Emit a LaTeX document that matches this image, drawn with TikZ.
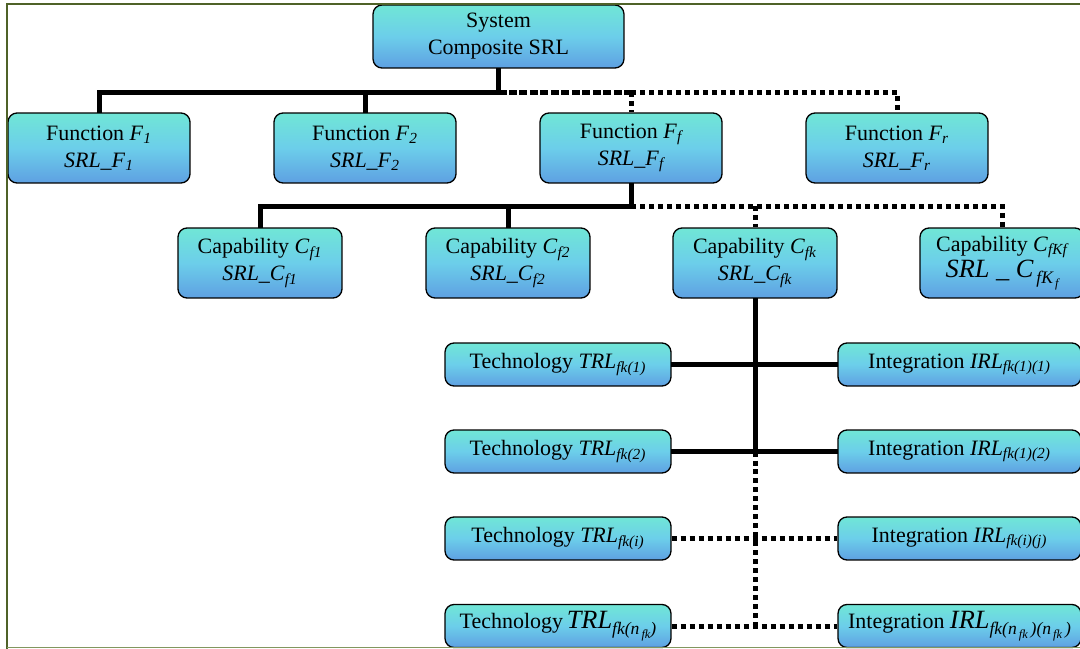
\documentclass[tikz,border=0pt]{standalone}
\usepackage{fontspec}
\setmainfont{Liberation Serif}
\pgfdeclarelayer{bg}
\pgfdeclarelayer{fg}
\pgfsetlayers{bg,main,fg}
\definecolor{boxtop}{RGB}{112,230,214}
\definecolor{boxmid}{RGB}{108,206,234}
\definecolor{boxbot}{RGB}{94,160,226}
\definecolor{framedark}{RGB}{79,98,40}
\definecolor{framelight}{RGB}{130,150,95}
\newcommand{\sbs}[1]{\textsubscript{\itshape #1}}
\newcommand{\bigit}[1]{{\fontsize{15}{15}\selectfont\itshape #1}}
\newcommand{\lowsub}[2][-0.6ex]{\raisebox{#1}{\fontsize{10}{10}\selectfont\itshape #2}}
\newcommand{\tinysub}[1]{\raisebox{-0.45ex}{\fontsize{7}{7}\selectfont\itshape #1}}
\begin{document}
\begin{tikzpicture}[x=0.02cm,y=-0.02cm,
  box/.style={draw=black, line width=0.75pt, rounded corners=0.18cm,
    top color=boxtop, bottom color=boxbot, middle color=boxmid,
    inner sep=0pt, align=center, font=\fontsize{12.5}{15.3}\selectfont},
  sysbox/.style={box, minimum width=5.02cm, minimum height=1.26cm},
  funbox/.style={box, minimum width=3.64cm, minimum height=1.40cm},
  capbox/.style={box, minimum width=3.28cm, minimum height=1.40cm},
  techbox/.style={box, minimum width=4.52cm, minimum height=0.86cm},
  intbox/.style={box, minimum width=4.86cm, minimum height=0.86cm},
  conn/.style={line width=0.1cm, line cap=rect},
  dotconn/.style={line width=0.1cm, dash pattern=on 0.1cm off 0.08cm},
  longdash/.style={line width=0.1cm, dash pattern=on 0.16cm off 0.05cm}]
\clip (0,0) rectangle (1080,649);

% system level
\node[sysbox] (sys) at (498.5,36.5) {System\\Composite SRL};

% functions
\node[funbox] (f1) at (99,148)  {Function \textit{F}\sbs{1}\\\textit{SRL\_F}\sbs{1}};
\node[funbox] (f2) at (365,148) {Function \textit{F}\sbs{2}\\\textit{SRL\_F}\sbs{2}};
\node[funbox] (ff) at (631,148) {Function \textit{F}\sbs{f}\\\textit{SRL\_F}\sbs{f}};
\node[funbox] (fr) at (897,148) {Function \textit{F}\sbs{r}\\\textit{SRL\_F}\sbs{r}};

% capabilities
\node[capbox] (c1) at (260,263)  {Capability \textit{C}\sbs{f1}\\\textit{SRL\_C}\sbs{f1}};
\node[capbox] (c2) at (508,263)  {Capability \textit{C}\sbs{f2}\\\textit{SRL\_C}\sbs{f2}};
\node[capbox] (ck) at (755,263)  {Capability \textit{C}\sbs{fk}\\\textit{SRL\_C}\sbs{fk}};
\node[capbox] (cK) at (1002,263) {Capability \textit{C}\sbs{fKf}\\\bigit{SRL}{\fontsize{15}{15}\selectfont\ \_\ }\bigit{C}\lowsub{\,fK\tinysub{\,f}}};

% technologies
\node[techbox] (t1) at (558,364.5) {Technology \textit{TRL}\sbs{fk(1)}};
\node[techbox] (t2) at (558,451.5) {Technology \textit{TRL}\sbs{fk(2)}};
\node[techbox] (t3) at (558,538.5) {Technology \textit{TRL}\sbs{fk(i)}};
\node[techbox] (t4) at (558,626)   {Technology\,\bigit{TRL}\lowsub{fk(n\tinysub{\,fk})}};

% integrations
\node[intbox] (i1) at (959.5,364.5) {Integration \textit{IRL}\sbs{fk(1)(1)}};
\node[intbox] (i2) at (959.5,451.5) {Integration \textit{IRL}\sbs{fk(1)(2)}};
\node[intbox] (i3) at (959.5,538.5) {Integration \textit{IRL}\sbs{fk(i)(j)}};
\node[intbox] (i4) at (959.5,626)   {Integration \bigit{IRL}\lowsub{fk(n\tinysub{\,fk}\,)(n\tinysub{\,fk}\,)}};

% junction points of the tree
\coordinate (jsys) at (sys.south |- 0,92);
\coordinate (jff) at (ff.south |- 0,206);
\coordinate (jck) at (ck.south |- t2.east);

\begin{pgfonlayer}{bg}
  % system to functions
  \draw[conn] (sys.south) -- (jsys);
  \draw[conn] (f1.north) |- (jsys);
  \draw[conn] (f2.north) -- (f2.north |- jsys);
  \draw[longdash] (jsys) -- (ff.north |- jsys);
  \draw[dotconn] (ff.north |- jsys) -- (fr.north |- jsys) -- (fr.north);
  \draw[dotconn] (ff.north |- jsys) -- (ff.north);
  % function to capabilities
  \draw[conn] (ff.south) -- (jff);
  \draw[conn] (c1.north) |- (jff);
  \draw[conn] (c2.north) -- (c2.north |- jff);
  \draw[dotconn] (jff) -- (cK.north |- jff) -- (cK.north);
  \draw[dotconn] (ck.north |- jff) -- (ck.north);
  % capability to technologies and integrations
  \draw[conn] (ck.south) -- (jck);
  \draw[dotconn] (jck) -- (ck.south |- t4.east);
  \draw[conn] (t1.east) -- (i1.west);
  \draw[conn] (t2.east) -- (i2.west);
  \draw[dotconn] (t3.east) -- (i3.west);
  \draw[dotconn] (t4.east) -- (i4.west);
\end{pgfonlayer}

% frame
\begin{pgfonlayer}{fg}
  \draw[framedark, line width=0.05cm] (7,649) -- (7,4) -- (1080,4);
  \draw[framelight, line width=0.025cm] (7,647.5) -- (1080,647.5);
\end{pgfonlayer}
\end{tikzpicture}
\end{document}
